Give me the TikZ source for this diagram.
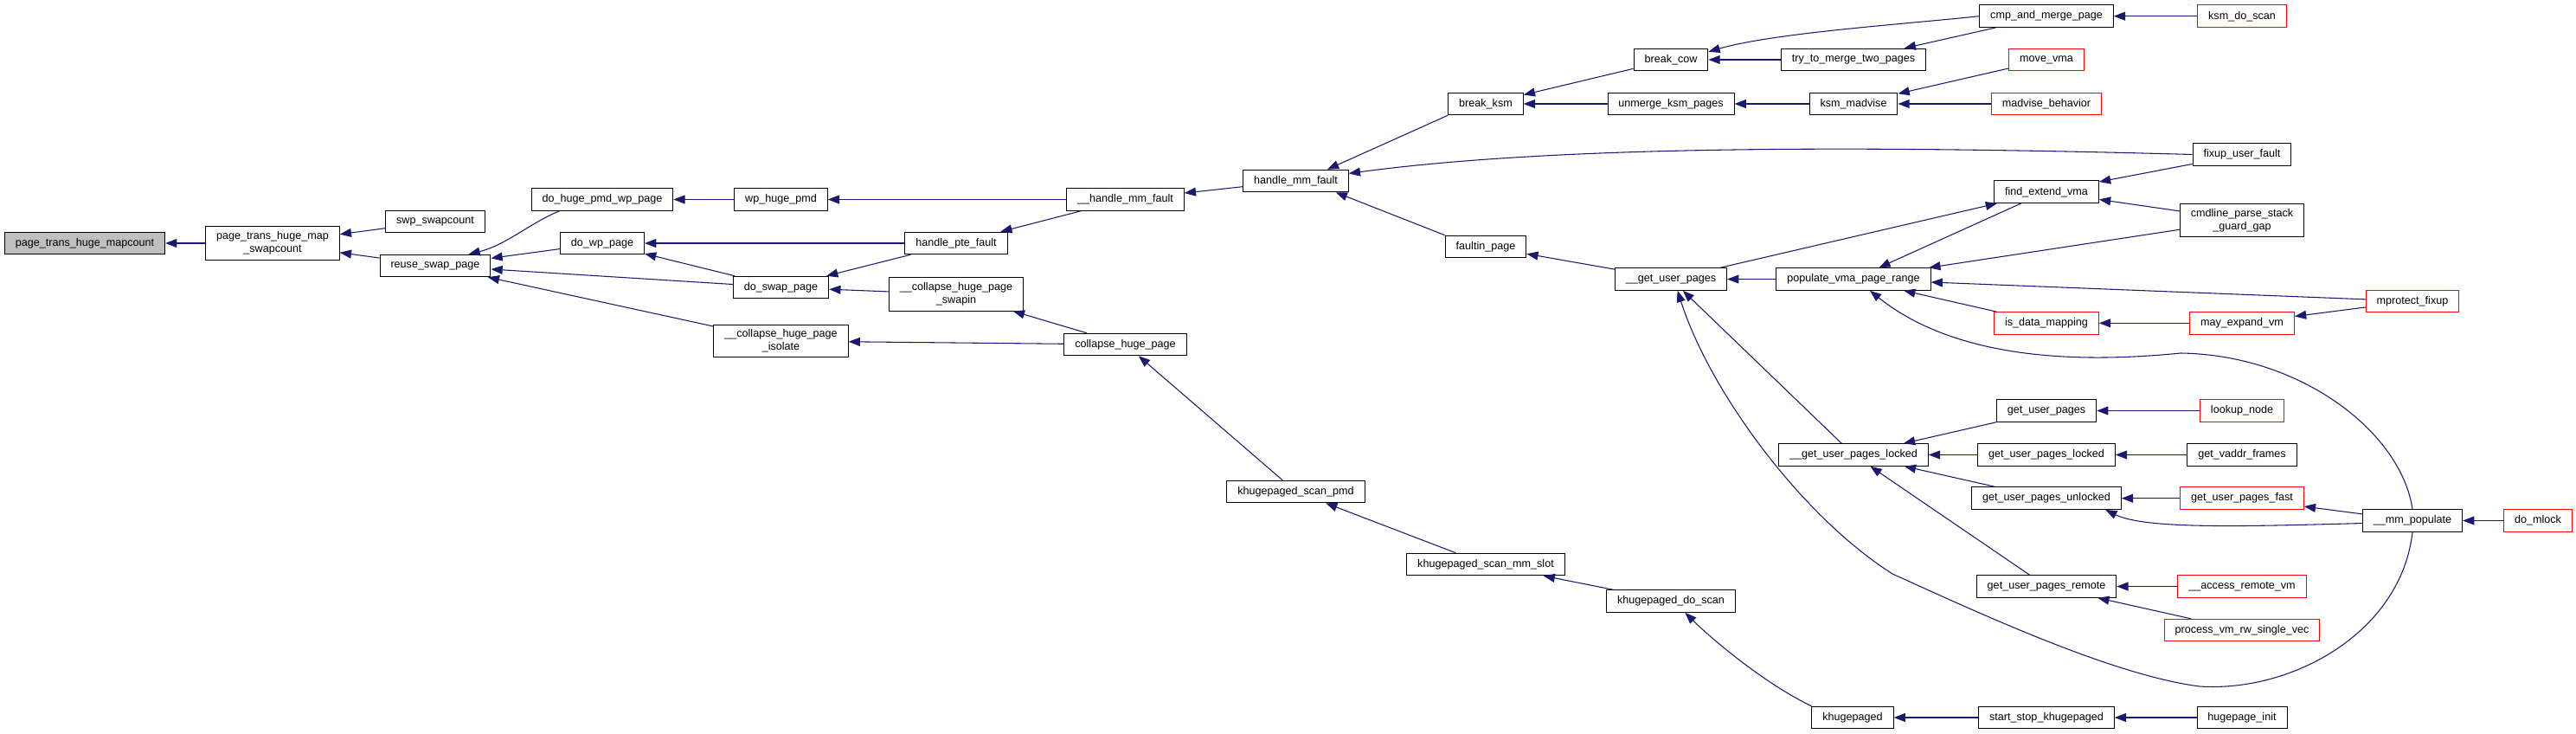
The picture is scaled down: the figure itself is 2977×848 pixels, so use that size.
\documentclass[tikz,border=0pt]{standalone}
\usepackage{fontspec}
\setmainfont{Liberation Sans}
\usetikzlibrary{arrows.meta}

\definecolor{edgeblue}{HTML}{191970}
\definecolor{rootgray}{HTML}{BFBFBF}
\definecolor{cutred}{HTML}{FF0000}

\begin{document}
\begin{tikzpicture}[x=0.0265cm, y=-0.0265cm]

  \tikzset{
    fn/.style   = {draw=black, fill=white, line width=0.75pt, align=center,
                   font=\fontsize{9.5}{11.3}\selectfont,
                   inner xsep=0.33cm, inner ysep=0.15cm, minimum height=0.676cm},
    root/.style = {fn, fill=rootgray},
    cut/.style  = {fn, draw=cutred},
    call/.style = {draw=edgeblue, line width=0.8pt,
                   -{Triangle[length=10pt, width=7.5pt]}},
  }

  \useasboundingbox (0,0) rectangle (2977,848);

  % ---- columns 0-2 --------------------------------------------------------
  \node[root] (ptm)    at (98,281)  {page\_trans\_huge\_mapcount};
  \node[fn]   (ptms)   at (315,281) {page\_trans\_huge\_map\\\_swapcount};
  \node[fn]   (swpcnt) at (503,256) {swp\_swapcount};
  \node[fn]   (reuse)  at (503,307) {reuse\_swap\_page};

  % ---- columns 3-6 --------------------------------------------------------
  \node[fn] (dohugepmd) at (696,230.5)    {do\_huge\_pmd\_wp\_page};
  \node[fn] (dowp)      at (696,281)      {do\_wp\_page};
  \node[fn] (wphugepmd) at (902.5,230.5)  {wp\_huge\_pmd};
  \node[fn] (doswap)    at (902.5,332)    {do\_swap\_page};
  \node[fn] (isolate)   at (902.5,394)    {\_\_collapse\_huge\_page\\\_isolate};
  \node[fn] (ptefault)  at (1105,281)     {handle\_pte\_fault};
  \node[fn] (swapin)    at (1105,340)     {\_\_collapse\_huge\_page\\\_swapin};
  \node[fn] (hmmfault)  at (1300.5,230.5) {\_\_handle\_mm\_fault};
  \node[fn] (collapse)  at (1300.5,398)   {collapse\_huge\_page};

  % ---- columns 7-9 --------------------------------------------------------
  \node[fn] (mmfault)  at (1497.5,209)   {handle\_mm\_fault};
  \node[fn] (scanpmd)  at (1497.5,568)   {khugepaged\_scan\_pmd};
  \node[fn] (breakksm) at (1717,120)     {break\_ksm};
  \node[fn] (faultin)  at (1717,285)     {faultin\_page};
  \node[fn] (scanslot) at (1717,652)     {khugepaged\_scan\_mm\_slot};
  \node[fn] (breakcow) at (1931,69)      {break\_cow};
  \node[fn] (unmerge)  at (1931,120)     {unmerge\_ksm\_pages};
  \node[fn] (gup)      at (1931,322.5)   {\_\_get\_user\_pages};
  \node[fn] (doscan)   at (1931,694.5)   {khugepaged\_do\_scan};

  % ---- column 10 ----------------------------------------------------------
  \node[fn] (trymerge)   at (2142,69)    {try\_to\_merge\_two\_pages};
  \node[fn] (madvise)    at (2142,120)   {ksm\_madvise};
  \node[fn] (popvma)     at (2142,322.5) {populate\_vma\_page\_range};
  \node[fn] (guplocked)  at (2142,525.5) {\_\_get\_user\_pages\_locked};
  \node[fn] (khugepaged) at (2141,829)   {khugepaged};

  % ---- column 11 ----------------------------------------------------------
  \node[fn]  (cmpmerge)    at (2365,18.7)  {cmp\_and\_merge\_page};
  \node[cut] (movevma)     at (2365,69)    {move\_vma};
  \node[cut] (madvbeh)     at (2365,120)   {madvise\_behavior};
  \node[fn]  (findvma)     at (2365,221.7) {find\_extend\_vma};
  \node[cut] (isdata)      at (2365,373.3) {is\_data\_mapping};
  \node[fn]  (getup)       at (2365,474.5) {get\_user\_pages};
  \node[fn]  (getuplocked) at (2365,525.5) {get\_user\_pages\_locked};
  \node[fn]  (gupunlocked) at (2365,575.7) {get\_user\_pages\_unlocked};
  \node[fn]  (getupremote) at (2365,677.5) {get\_user\_pages\_remote};
  \node[fn]  (startstop)   at (2365,829)   {start\_stop\_khugepaged};

  % ---- columns 12-14 ------------------------------------------------------
  \node[cut] (ksmscan)   at (2591,18.7)  {ksm\_do\_scan};
  \node[fn]  (fixup)     at (2591,178.5) {fixup\_user\_fault};
  \node[fn]  (cmdline)   at (2591,254.3) {cmdline\_parse\_stack\\\_guard\_gap};
  \node[cut] (mayexpand) at (2591,373.3) {may\_expand\_vm};
  \node[cut] (lookup)    at (2591,474.5) {lookup\_node};
  \node[fn]  (vaddr)     at (2591,525.5) {get\_vaddr\_frames};
  \node[cut] (gupfast)   at (2591,575.7) {get\_user\_pages\_fast};
  \node[cut] (accessvm)  at (2591,677.5) {\_\_access\_remote\_vm};
  \node[cut] (processvm) at (2591,728)   {process\_vm\_rw\_single\_vec};
  \node[fn]  (hpinit)    at (2591,829)   {hugepage\_init};
  \node[cut] (mprotect)  at (2788,348)   {mprotect\_fixup};
  \node[fn]  (mmpop)     at (2788,601.5) {\_\_mm\_populate};
  \node[cut] (domlock)   at (2933,601.5) {do\_mlock};

  % ---- straight calls (caller/callee) -------------------------------------
  \foreach \a/\b in {ptms/ptm, swpcnt/ptms, reuse/ptms,
                     dowp/reuse, doswap/reuse, isolate/reuse,
                     wphugepmd/dohugepmd, ptefault/dowp, doswap/dowp,
                     ptefault/doswap, swapin/doswap, collapse/isolate,
                     collapse/swapin, hmmfault/wphugepmd, hmmfault/ptefault,
                     mmfault/hmmfault, scanpmd/collapse, scanslot/scanpmd,
                     breakcow/breakksm, unmerge/breakksm, gup/faultin,
                     doscan/scanslot, trymerge/breakcow, madvise/unmerge,
                     cmpmerge/trymerge, ksmscan/cmpmerge, movevma/madvise,
                     madvbeh/madvise, gup/findvma, popvma/gup, guplocked/gup,
                     fixup/findvma, cmdline/findvma, cmdline/popvma,
                     findvma/popvma, mprotect/popvma, isdata/popvma,
                     mayexpand/isdata, mprotect/mayexpand,
                     getup/guplocked, getuplocked/guplocked,
                     gupunlocked/guplocked, getupremote/guplocked,
                     lookup/getup, vaddr/getuplocked, gupfast/gupunlocked,
                     mmpop/gupfast, domlock/mmpop, accessvm/getupremote,
                     processvm/getupremote, startstop/khugepaged,
                     hpinit/startstop} {
    \draw[call] (\a) -- (\b);
  }

  % ---- bent calls -----------------------------------------------------------
  \draw[call] (dohugepmd.195) .. controls (612,258) and (585,283) .. (reuse.19);
  \draw[call] (breakksm.south west) -- (mmfault.20);
  \draw[call] (faultin.north west) -- (mmfault.344);
  \draw[call] (fixup.west) .. controls (2150,168) and (1800,168) .. (mmfault.8);
  \draw[call] (cmpmerge.west) .. controls (2200,28) and (2050,38) .. (breakcow.12);
  \draw[call] (khugepaged.north west) .. controls (2040,790) and (1980,740)
    .. (doscan.-39);
  \draw[call] (mmpop.183) .. controls (2600,608) and (2480,612)
    .. (gupunlocked.-11);
  \draw[call] (mmpop.north) .. controls (2775,500) and (2660,410) .. (2520,408)
    .. controls (2400,420) and (2260,415) .. (popvma.-35);
  \draw[call] (mmpop.south) .. controls (2775,730) and (2650,800) .. (2542,793)
    .. controls (2440,780) and (2280,705) .. (2187,663)
    .. controls (2080,595) and (1975,450) .. (gup.300);

\end{tikzpicture}
\end{document}
